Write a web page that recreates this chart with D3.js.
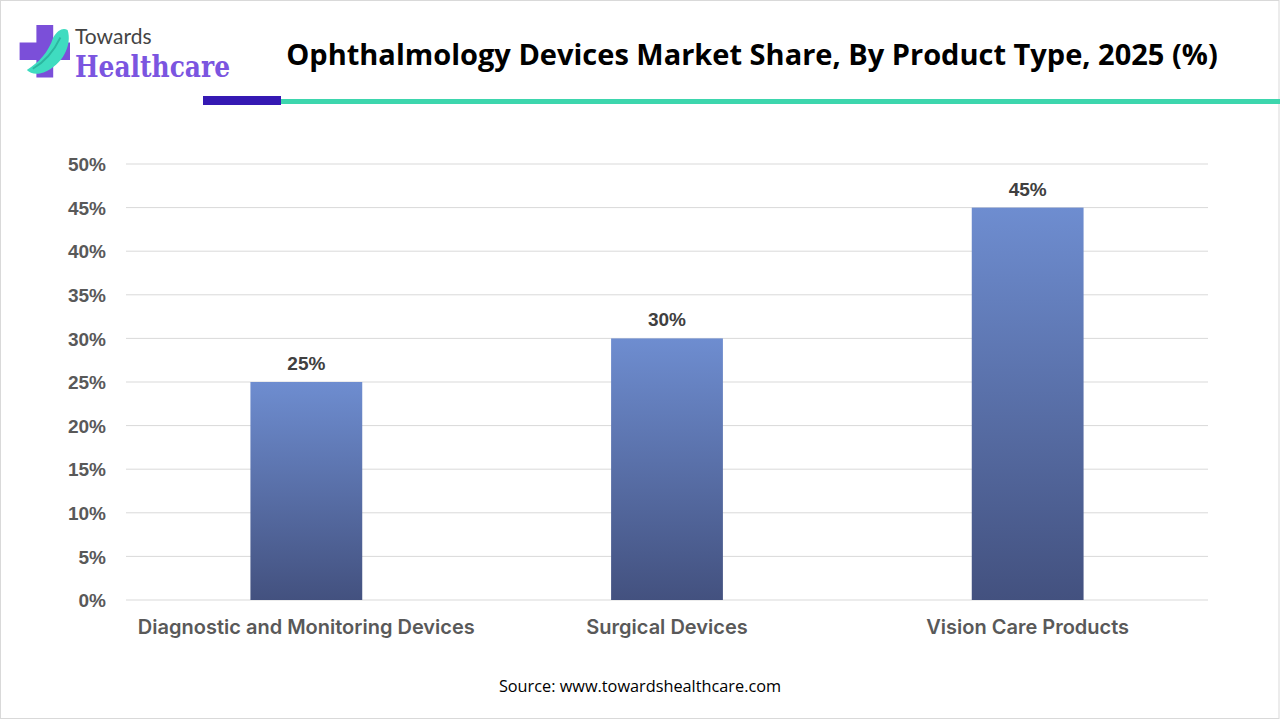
<!DOCTYPE html>
<html>
<head>
<meta charset="utf-8">
<script src="https://cdn.jsdelivr.net/npm/d3@7"></script>
<style>
  html, body { margin: 0; padding: 0; background: #fff; }
  svg { display: block; }
</style>
</head>
<body>
<svg></svg>
<script>
const width = 1280;
const height = 720;

// chart values
const categories = ["Diagnostic and Monitoring Devices", "Surgical Devices", "Vision Care Products"];
const shares = [25, 30, 45];
const yTicks = [0, 5, 10, 15, 20, 25, 30, 35, 40, 45, 50];

const margin = {left: 126, right: 72, top: 164, bottom: 120};

const svg = d3.select("svg")
  .attr("width", width)
  .attr("height", height);

// outer frame
svg.append("rect")
  .attr("x", 0.5).attr("y", 0.5)
  .attr("width", width - 1.5).attr("height", height - 2)
  .attr("fill", "#fff")
  .attr("stroke", "#d9d9d9");

const defs = svg.append("defs");
const grad = defs.append("linearGradient")
  .attr("id", "barGrad")
  .attr("x1", 0).attr("y1", 0).attr("x2", 0).attr("y2", 1);
grad.append("stop").attr("offset", "0%").attr("stop-color", "#6e8dd0");
grad.append("stop").attr("offset", "100%").attr("stop-color", "#43517f");

// ---- header: logo ----
const logo = svg.append("g").attr("transform", "translate(22,25) scale(1.2,1.25)");
// purple cross
logo.append("path")
  .attr("d", "M12 0 h14 v14 h14 v14 h-14 v14 h-14 v-14 h-14 v-14 h14 z")
  .attr("fill", "#7b4fd9");
// teal leaf
logo.append("path")
  .attr("d", "M4 36 C 14 30, 22 22, 26 10 C 30 4, 34 2, 38 4 C 42 16, 34 32, 18 38 C 12 40, 7 39, 4 36 Z")
  .attr("fill", "#3fdcc0");
logo.append("path")
  .attr("d", "M9 35 C 18 30, 26 22, 32 10")
  .attr("fill", "none")
  .attr("stroke", "#2bb7a0")
  .attr("stroke-width", 1.5);

svg.append("text")
  .attr("x", 75).attr("y", 44)
  .attr("font-family", "Lato, 'Open Sans', sans-serif")
  .attr("font-size", 21)
  .attr("fill", "#444")
  .text("Towards");

svg.append("text")
  .attr("x", 75).attr("y", 77)
  .attr("font-family", "'DejaVu Serif', serif")
  .attr("font-weight", "bold")
  .attr("font-size", 30)
  .attr("textLength", 155)
  .attr("lengthAdjust", "spacingAndGlyphs")
  .attr("fill", "#7b55e0")
  .text("Healthcare");

// title
svg.append("text")
  .attr("x", 752).attr("y", 65)
  .attr("text-anchor", "middle")
  .attr("font-family", "'Open Sans', sans-serif")
  .attr("font-weight", "bold")
  .attr("font-size", 29)
  .attr("fill", "#000")
  .text("Ophthalmology Devices Market Share, By Product Type, 2025 (%)");

// header rule
svg.append("rect")
  .attr("x", 281).attr("y", 99).attr("width", width - 281).attr("height", 5)
  .attr("fill", "#3dd6ad");
svg.append("rect")
  .attr("x", 203).attr("y", 96).attr("width", 78).attr("height", 9)
  .attr("fill", "#3519b3");

// ---- scales ----
const x = d3.scaleBand()
  .domain(categories)
  .range([margin.left, width - margin.right])
  .paddingInner(0.69)
  .paddingOuter(0.345);

const y = d3.scaleLinear()
  .domain([0, 50])
  .range([height - margin.bottom, margin.top]);

// gridlines
svg.append("g")
  .selectAll("line")
  .data(yTicks)
  .enter().append("line")
    .attr("x1", margin.left)
    .attr("x2", width - margin.right)
    .attr("y1", d => y(d))
    .attr("y2", d => y(d))
    .attr("stroke", "#d9d9d9")
    .attr("stroke-width", 1);

// y axis
const yAxis = svg.append("g")
  .attr("transform", "translate(" + (margin.left - 20) + ",0)")
  .call(d3.axisLeft(y).tickValues(yTicks).tickFormat(d => d + "%").tickSize(0).tickPadding(0));
yAxis.select(".domain").remove();
yAxis.selectAll("text")
  .attr("font-family", "'Liberation Sans', Arial, sans-serif")
  .attr("font-weight", "bold")
  .attr("font-size", 19)
  .attr("fill", "#595959")
  .attr("dy", "0.35em");

// bars
svg.append("g")
  .selectAll("rect")
  .data(shares)
  .enter().append("rect")
    .attr("x", (d, i) => x(categories[i]))
    .attr("y", d => y(d))
    .attr("width", x.bandwidth())
    .attr("height", d => y(0) - y(d))
    .attr("fill", "url(#barGrad)");

// value labels
svg.append("g")
  .selectAll("text")
  .data(shares)
  .enter().append("text")
    .attr("x", (d, i) => x(categories[i]) + x.bandwidth() / 2)
    .attr("y", d => y(d) - 12)
    .attr("text-anchor", "middle")
    .attr("font-family", "'Liberation Sans', Arial, sans-serif")
    .attr("font-weight", "bold")
    .attr("font-size", 19)
    .attr("fill", "#404040")
    .text(d => d + "%");

// x axis
const xAxis = svg.append("g")
  .attr("transform", "translate(0," + (height - margin.bottom) + ")")
  .call(d3.axisBottom(x).tickSize(0).tickPadding(20));
xAxis.select(".domain").remove();
xAxis.selectAll("text")
  .attr("font-family", "Inter, 'Open Sans', sans-serif")
  .attr("font-weight", 600)
  .attr("font-size", 20)
  .attr("fill", "#595959")
  .attr("dy", "0.7em");

// source
svg.append("text")
  .attr("x", 640).attr("y", 692)
  .attr("text-anchor", "middle")
  .attr("font-family", "'Open Sans', sans-serif")
  .attr("font-size", 16.3)
  .attr("fill", "#000")
  .text("Source: www.towardshealthcare.com");
</script>
</body>
</html>
